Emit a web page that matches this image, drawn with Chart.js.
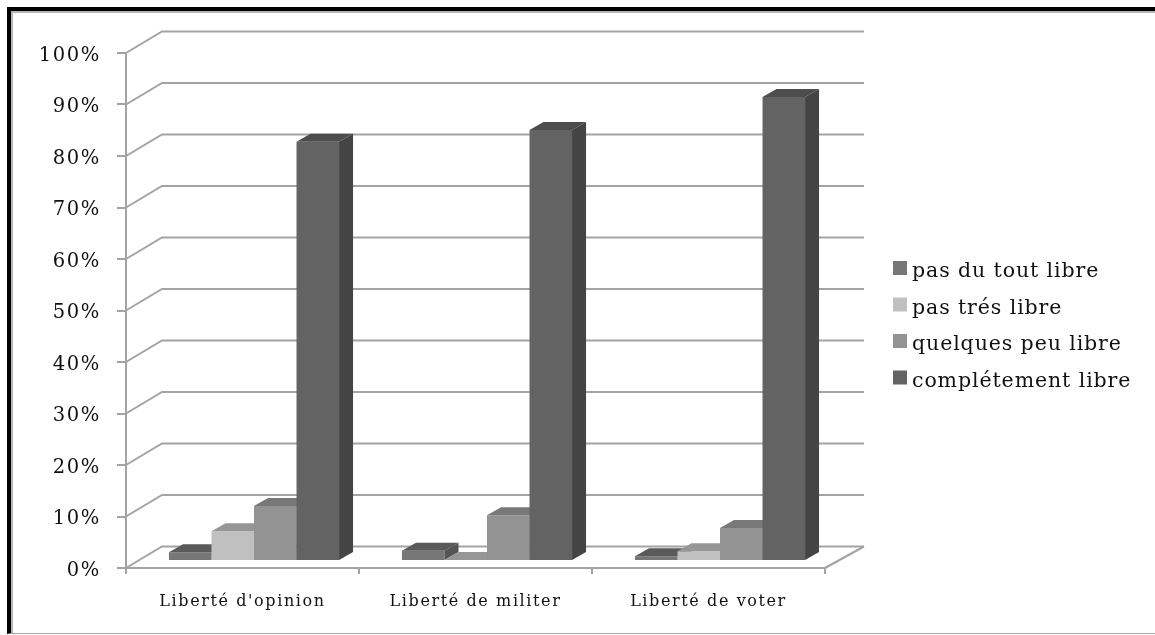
<!DOCTYPE html>
<html>
<head>
<meta charset="utf-8">
<title>Libertés</title>
<script src="https://cdn.jsdelivr.net/npm/chart.js@4/dist/chart.umd.min.js"></script>
<style>
    html, body { margin: 0; padding: 0; background: #fff; overflow: hidden; }
    #frame { position: absolute; left: 7px; top: 7px; width: 1148px; height: 627px; border-top: 4px solid #000; border-left: 4px solid #000; border-bottom: 1px solid #aaa; box-sizing: border-box; box-shadow: inset 2px 2px 0 #b5b5b5; }
    #chart { position: absolute; left: 0; top: 0; }
</style>
</head>
<body>
<div id="frame"></div>
<canvas id="chart" width="1155" height="635"></canvas>
<script>
const categories = ["Liberté d'opinion", 'Liberté de militer', 'Liberté de voter'];
const seriesNames = ['pas du tout libre', 'pas trés libre', 'quelques peu libre', 'complétement libre'];
const pasDuTout = [1.7, 2.0, 0.9];
const pasTres = [5.8, 0.2, 1.9];
const quelquesPeu = [10.7, 8.9, 6.4];
const completement = [81.4, 83.7, 90.1];
const seriesValues = [pasDuTout, pasTres, quelquesPeu, completement];

const frontColors = ['#777777', '#c0c0c0', '#939393', '#636363'];
const topColors = ['#5a5a5a', '#969696', '#787878', '#4d4d4d'];
const sideColors = ['#555555', '#8a8a8a', '#6c6c6c', '#444444'];
const gridColor = '#a3a3a3';
const serifFont = "'DejaVu Serif', serif";

// wall and floor offset of the fake 3D view
const wallDx = 36, wallDy = -21.5;
const barShiftX = 11.5, barShiftY = -7;
const depthDx = 14, depthDy = -8;

const fake3d = {
    id: 'fake3d',
    beforeDraw(chart) {
        // the reference text is stretched wide
        chart.ctx.letterSpacing = '1.6px';
    },
    beforeDatasetsDraw(chart) {
        const { ctx, scales: { x, y } } = chart;
        ctx.save();
        ctx.strokeStyle = gridColor;
        ctx.lineWidth = 2;
        y.ticks.forEach(t => {
            const py = y.getPixelForValue(t.value);
            ctx.beginPath();
            ctx.moveTo(x.left, py);
            ctx.lineTo(x.left + wallDx, py + wallDy);
            ctx.lineTo(x.right + wallDx + 3, py + wallDy);
            ctx.stroke();
        });
        // floor
        const py0 = y.getPixelForValue(0);
        ctx.beginPath();
        ctx.moveTo(x.right, py0);
        ctx.lineTo(x.right + wallDx + 3, py0 + wallDy);
        ctx.stroke();
        ctx.restore();
    },
    // default drawing goes last dataset first, the bars need the other order
    beforeDatasetDraw() {
        return false;
    },
    afterDatasetsDraw(chart) {
        const ctx = chart.ctx;
        ctx.save();
        ctx.translate(barShiftX, barShiftY);
        categories.forEach((c, j) => {
            seriesNames.forEach((s, i) => {
                const bar = chart.getDatasetMeta(i).data[j];
                const p = bar.getProps(['x', 'y', 'base', 'width'], true);
                const l = p.x - p.width / 2, r = p.x + p.width / 2;
                bar.draw(ctx);
                ctx.fillStyle = sideColors[i];
                ctx.beginPath();
                ctx.moveTo(r, p.y);
                ctx.lineTo(r + depthDx, p.y + depthDy);
                ctx.lineTo(r + depthDx, p.base + depthDy);
                ctx.lineTo(r, p.base);
                ctx.fill();
                ctx.fillStyle = topColors[i];
                ctx.beginPath();
                ctx.moveTo(l, p.y);
                ctx.lineTo(l + depthDx, p.y + depthDy);
                ctx.lineTo(r + depthDx, p.y + depthDy);
                ctx.lineTo(r, p.y);
                ctx.fill();
            });
        });
        ctx.restore();
    },
    afterDraw(chart) {
        const ctx = chart.ctx;
        ctx.save();
        ctx.font = "20.5px " + serifFont;
        ctx.letterSpacing = '0.9px';
        ctx.textBaseline = 'middle';
        seriesNames.forEach((name, i) => {
            ctx.fillStyle = frontColors[i];
            ctx.fillRect(893, 261 + i * 36.5, 14, 14);
            ctx.fillStyle = '#111';
            ctx.fillText(name, 912, 272 + i * 36.5);
        });
        ctx.restore();
    }
};

new Chart(document.getElementById('chart'), {
    type: 'bar',
    data: {
        labels: categories,
        datasets: seriesNames.map((name, i) => ({
            label: name,
            data: seriesValues[i],
            backgroundColor: frontColors[i],
            barPercentage: 1,
            categoryPercentage: 0.73
        }))
    },
    plugins: [fake3d],
    options: {
        responsive: false,
        animation: false,
        layout: { padding: { top: 53, right: 330, left: 0, bottom: 0 } },
        plugins: { legend: { display: false }, tooltip: { enabled: false } },
        scales: {
            x: {
                afterFit(scale) { scale.height = 67; },
                border: { color: gridColor, width: 2 },
                grid: { drawOnChartArea: false, color: gridColor, lineWidth: 2, tickLength: 6 },
                ticks: { color: '#111', padding: 18, maxRotation: 0, font: { family: serifFont, size: 16 } }
            },
            y: {
                min: 0,
                max: 100,
                afterFit(scale) { scale.width = 126; },
                border: { color: gridColor, width: 2 },
                grid: { drawOnChartArea: false, color: gridColor, lineWidth: 2, tickLength: 9 },
                ticks: {
                    stepSize: 10,
                    color: '#111',
                    padding: 16,
                    labelOffset: 2.5,
                    font: { family: serifFont, size: 19.5 },
                    callback: v => v + '%'
                }
            }
        }
    }
});
</script>
</body>
</html>
